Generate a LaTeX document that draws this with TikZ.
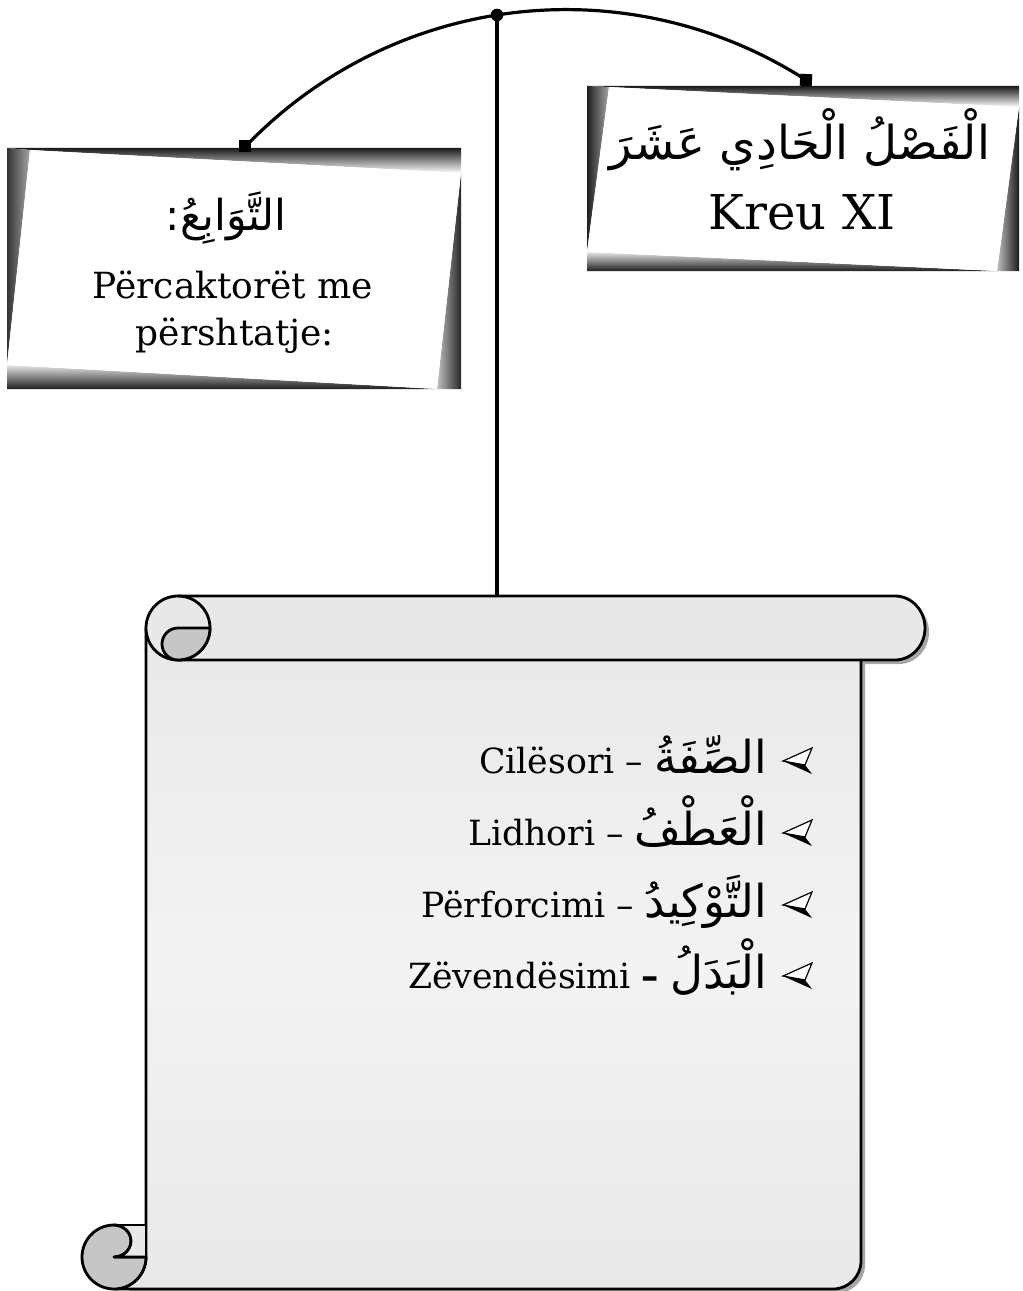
\documentclass[tikz,border=0pt]{standalone}
\usepackage{fontspec}
\setmainfont{DejaVu Serif}
\newfontfamily\arabicfont[Script=Arabic]{DejaVu Sans}
\newfontfamily\dashfont{DejaVu Sans}
\TeXXeTstate=1
\newcommand{\AR}[1]{{\arabicfont\beginR #1\endR}}
\definecolor{paper}{HTML}{E8E8E8}
\definecolor{paperlight}{HTML}{F3F3F3}
\definecolor{curl}{HTML}{C6C6C6}
\begin{document}
\begin{tikzpicture}[x=0.75pt,y=0.75pt,
  conn/.style={line width=2.4pt},
  pole/.style={line width=3pt},
  sq/.style={fill=black, minimum size=9pt, inner sep=0pt, outer sep=0pt},
  scrollline/.style={line width=2.1pt, line join=round},
  lbl/.style={inner sep=0pt, outer sep=0pt, anchor=base},
  signtxt/.style={lbl, font=\fontsize{27}{32}\selectfont},
  itemtxt/.style={inner sep=0pt, outer sep=0pt, anchor=base east, font=\fontsize{26}{30}\selectfont},
  bul/.pic={
    \filldraw[fill=white, line width=0.9pt, line join=miter] (0,0) -- (29,13) -- (22,-4) -- cycle;
    \fill (0,0) -- (22,-4) -- (29,-13) -- cycle;
  }]
\useasboundingbox (0,0) rectangle (1022,-1291);

% ---------- left sign ----------
\shade[top color=black!90, bottom color=white] (7,-148) -- (461,-148) -- (461,-173) -- (30,-150) -- cycle;
\shade[left color=black!80, right color=black!35] (7,-148) -- (30,-150) -- (7,-365) -- cycle;
\shade[left color=black!25, right color=black!85] (461,-173) -- (461,-389) -- (437,-389) -- cycle;
\shade[top color=black!10, bottom color=black!88] (7,-365) -- (437,-389) -- (7,-389) -- cycle;
\fill[white] (30,-150) -- (461,-173) -- (437,-389) -- (7,-365) -- cycle;

% ---------- right sign ----------
\shade[top color=black!90, bottom color=white] (587,-86) -- (1019,-86) -- (1019,-107) -- (609,-87) -- cycle;
\shade[left color=black!88, right color=black!35] (587,-86) -- (609,-87) -- (587,-252) -- cycle;
\shade[left color=black!25, right color=black!90] (1019,-107) -- (1019,-271) -- (997,-271) -- cycle;
\shade[top color=black!10, bottom color=black!88] (587,-252) -- (997,-271) -- (587,-271) -- cycle;
\fill[white] (609,-87) -- (1019,-107) -- (997,-271) -- (587,-252) -- cycle;

% sign texts
\node[lbl, font=\fontsize{35}{41}\selectfont] (rar) at (800,-160) {\AR{الْفَصْلُ الْحَادِي عَشَرَ}};
\node[lbl, font=\fontsize{36}{42}\selectfont] (kreu) at (802,-230) {Kreu XI};
\node[lbl, font=\fontsize{32}{38}\selectfont] (lar) at (226,-231) {\AR{التَّوَابِعُ:}};
\node[signtxt] (lt1) at (233,-298) {Përcaktorët me};
\node[signtxt] (lt2) at (235,-345) {përshtatje:};

% ---------- hanger ----------
\coordinate (rolltop) at (497,-596);
\node[circle, fill=black, inner sep=0pt, minimum size=9.5pt] (dot) at (497,-15) {};
\draw[pole] (dot.center) -- (rolltop);
\draw[conn] (dot.center) arc[start angle=98.96, end angle=136.3, radius=443.9];
\draw[conn] (dot.center) arc[start angle=98.96, end angle=57.3, radius=443.9];
\node[sq] (lsq) at (245,-146) {};
\node[sq, rotate=-3] (rsq) at (806,-80) {};

% ---------- scroll shadow ----------
\fill[black!35] (149,-632) -- (149,-1261) arc[start angle=0, end angle=-90, x radius=32, y radius=32]
   -- (837,-1293) arc[start angle=-90, end angle=0, radius=28] -- (865,-632) -- cycle;
\fill[black!35] (182,-600) -- (899,-600) arc[start angle=90, end angle=-90, x radius=30, y radius=32]
   -- (182,-664) arc[start angle=270, end angle=90, x radius=32, y radius=32] -- cycle;

% ---------- scroll body ----------
\path[draw, scrollline, top color=paper, bottom color=paper, middle color=paperlight]
  (146,-628) -- (146,-1257) arc[start angle=0, end angle=-90, x radius=32, y radius=32]
  -- (833,-1289) arc[start angle=-90, end angle=0, radius=28] -- (861,-628) -- cycle;

% bottom-left curl
\filldraw[scrollline, fill=curl] (114,-1225) arc[start angle=90, end angle=-90, x radius=17, y radius=16]
  -- (146,-1257) arc[start angle=0, end angle=-90, x radius=32, y radius=32]
  arc[start angle=-90, end angle=-270, x radius=32, y radius=32] -- cycle;
\fill[paper] (114,-1225) arc[start angle=90, end angle=-90, x radius=17, y radius=16] -- (145.2,-1257) -- (145.2,-1225) -- cycle;
\draw[scrollline] (114,-1225) -- (146,-1225);
\draw[scrollline] (114,-1225) arc[start angle=90, end angle=-90, x radius=17, y radius=16] -- (146,-1257);
\draw[scrollline] (146,-1200) -- (146,-1257);

% top roll
\filldraw[scrollline, fill=paper] (178,-596) -- (895,-596) arc[start angle=90, end angle=-90, x radius=30, y radius=32]
  -- (178,-660) arc[start angle=270, end angle=90, x radius=32, y radius=32] -- cycle;
\draw[scrollline] (178,-596) arc[start angle=90, end angle=-90, x radius=32, y radius=32];
\filldraw[scrollline, fill=curl] (210,-628) -- (178,-628) arc[start angle=90, end angle=270, x radius=16, y radius=16]
  arc[start angle=270, end angle=360, x radius=32, y radius=32] -- cycle;

% ---------- list ----------
\node[itemtxt] (i1) at (767,-773) {Cilësori – {\fontsize{34}{38}\selectfont\AR{الصِّفَةُ}}};
\node[itemtxt] (i2) at (767,-845) {Lidhori – {\fontsize{34}{38}\selectfont\AR{الْعَطْفُ}}};
\node[itemtxt] (i3) at (767,-917) {Përforcimi – {\fontsize{34}{38}\selectfont\AR{التَّوْكِيدُ}}};
\node[itemtxt] (i4) at (767,-988) {Zëvendësimi {\dashfont\bfseries –} {\fontsize{34}{38}\selectfont\AR{الْبَدَلُ}}};
\pic at (783,-761) {bul};
\pic at (783,-833) {bul};
\pic at (783,-905) {bul};
\pic at (783,-976) {bul};
\end{tikzpicture}
\end{document}
